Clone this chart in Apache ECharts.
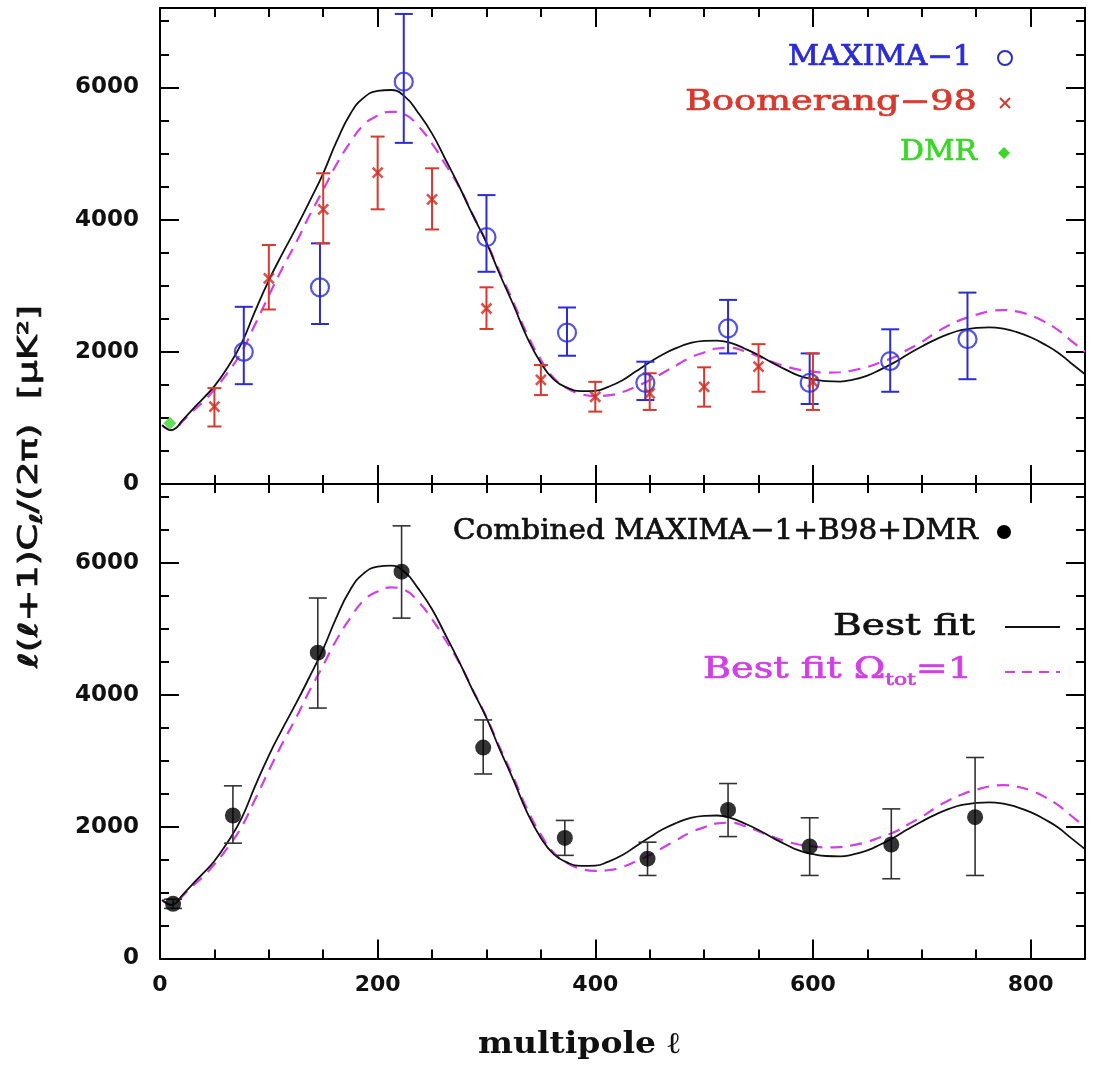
<!DOCTYPE html>
<html><head><meta charset="utf-8">
<script src="https://cdn.jsdelivr.net/npm/echarts@6/dist/echarts.min.js"></script>
<style>html,body{margin:0;padding:0;background:#fff}#c{width:1094px;height:1065px}</style>
</head><body><div id="c"></div>
<script>
// ---------------- DATA ----------------
const modelL = [2, 6, 10, 15, 20, 30, 40, 50, 62, 75, 87, 100, 112, 125, 137, 150, 162, 175, 187, 200, 212, 225, 237, 250, 262, 275, 287, 300, 312, 325, 337, 350, 362, 375, 387, 400, 412, 425, 437, 450, 462, 475, 487, 500, 512, 525, 537, 550, 562, 575, 587, 600, 612, 625, 637, 650, 662, 675, 687, 700, 712, 725, 737, 750, 762, 775, 787, 800, 812, 825, 837, 850];
const bestFit = [890, 840, 815, 850, 950, 1130, 1300, 1480, 1760, 2130, 2600, 3080, 3470, 3870, 4260, 4700, 5170, 5600, 5840, 5945, 5960, 5860, 5620, 5300, 4920, 4500, 4080, 3650, 3180, 2700, 2230, 1830, 1580, 1450, 1405, 1410, 1470, 1570, 1700, 1840, 1960, 2060, 2130, 2165, 2170, 2130, 2050, 1950, 1840, 1730, 1640, 1585, 1555, 1550, 1580, 1640, 1730, 1840, 1960, 2080, 2180, 2270, 2330, 2360, 2370, 2350, 2300, 2220, 2120, 1990, 1830, 1660];
const bestFitFlat = [890, 840, 815, 845, 935, 1100, 1250, 1430, 1680, 2000, 2400, 2850, 3250, 3650, 4050, 4450, 4830, 5170, 5430, 5570, 5630, 5590, 5420, 5150, 4840, 4490, 4090, 3660, 3210, 2740, 2280, 1880, 1600, 1440, 1360, 1330, 1340, 1390, 1470, 1570, 1680, 1800, 1910, 1990, 2050, 2060, 2010, 1930, 1850, 1780, 1730, 1700, 1685, 1690, 1720, 1770, 1840, 1920, 2030, 2150, 2280, 2400, 2490, 2560, 2610, 2630, 2610, 2550, 2460, 2330, 2170, 2000];

const maximaL  = [77, 147, 224, 300, 374, 446, 522, 597, 671, 742];
const maximaV  = [2000, 2975, 6085, 3735, 2290, 1530, 2355, 1530, 1860, 2190];
const maximaLo = [1510, 2420, 5160, 3210, 1940, 1270, 1975, 1210, 1395, 1585];
const maximaHi = [2680, 3640, 7110, 4370, 2670, 1850, 2785, 1975, 2340, 2895];

const boomL  = [50, 100, 150, 200, 250, 300, 350, 400, 450, 500, 550, 600];
const boomV  = [1170, 3110, 4155, 4710, 4305, 2655, 1575, 1320, 1370, 1470, 1775, 1545];
const boomLo = [870, 2640, 3640, 4155, 3850, 2345, 1345, 1095, 1120, 1170, 1395, 1120];
const boomHi = [1450, 3615, 4700, 5255, 4775, 2975, 1800, 1545, 1675, 1765, 2115, 1975];

const dmrL = [9];
const dmrV = [920];

const combL  = [12, 67, 145, 222, 297, 372, 448, 522, 597, 672, 749];
const combV  = [830, 2170, 4640, 5870, 3200, 1830, 1515, 2255, 1700, 1730, 2145];
const combLo = [760, 1750, 3800, 5165, 2800, 1565, 1260, 1850, 1260, 1210, 1260];
const combHi = [900, 2620, 5470, 6565, 3620, 2095, 1765, 2655, 2135, 2270, 3050];

const xTickLabels = [0, 200, 400, 600, 800];
const yTickLabels = [0, 2000, 4000, 6000];

const legendTop = ['MAXIMA\u22121', 'Boomerang\u221298', 'DMR'];
const legendBottom = ['Combined MAXIMA\u22121+B98+DMR', 'Best fit', 'Best fit \u03A9', 'tot', '=1'];

// ---------------- STYLE ----------------
const BLUE = '#2b2bd8', RED = '#d8392e', GREEN = '#3ad628', MAG = '#d040e6', BLK = '#111';
const X_MIN = 0, X_MAX = 850, Y_MIN = 0, Y_MAX = 7200;

const zip = (a, b) => a.map((v, i) => [v, b[i]]);
const zip3 = (a, b, c) => a.map((v, i) => [v, b[i], c[i]]);

function xAx(gi, pos, interval, len, withLine, labels) {
  return {
    type: 'value', gridIndex: gi, position: pos, min: X_MIN, max: X_MAX, interval: interval,
    axisLine: { show: withLine, onZero: false, lineStyle: { color: '#000', width: 2 } },
    axisTick: { show: true, inside: true, length: len, lineStyle: { color: '#000', width: 2 } },
    axisLabel: labels ? {
      show: true, margin: 16, color: '#111', fontFamily: 'DejaVu Sans', fontWeight: 'bold', fontSize: 22,
      formatter: v => (xTickLabels.indexOf(v) >= 0 ? String(v) : '')
    } : { show: false },
    splitLine: { show: false }
  };
}
function yAx(gi, pos, interval, len, withLine, labels) {
  return {
    type: 'value', gridIndex: gi, position: pos, min: Y_MIN, max: Y_MAX, interval: interval,
    axisLine: { show: withLine, onZero: false, lineStyle: { color: '#000', width: 2 } },
    axisTick: { show: true, inside: true, length: len, lineStyle: { color: '#000', width: 2 } },
    axisLabel: labels ? {
      show: true, margin: 21, color: '#111', fontFamily: 'DejaVu Sans', fontWeight: 'bold', fontSize: 23,
      formatter: v => (yTickLabels.indexOf(v) >= 0 ? String(v) : '')
    } : { show: false },
    splitLine: { show: false }
  };
}

const xAxes = [], yAxes = [];
[0, 1].forEach(gi => {
  xAxes.push(xAx(gi, 'bottom', 200, 19, true, gi === 1));
  xAxes.push(xAx(gi, 'bottom', 50, 9, false, false));
  xAxes.push(xAx(gi, 'top', 200, 19, true, false));
  xAxes.push(xAx(gi, 'top', 50, 9, false, false));
  yAxes.push(yAx(gi, 'left', 2000, 19, true, true));
  yAxes.push(yAx(gi, 'left', 500, 9, false, false));
  yAxes.push(yAx(gi, 'right', 2000, 19, true, false));
  yAxes.push(yAx(gi, 'right', 500, 9, false, false));
});

function errRender(capHalf, color, lw) {
  return function (params, api) {
    const x = api.value(0), lo = api.value(1), hi = api.value(2);
    const a = api.coord([x, lo]), b = api.coord([x, hi]);
    const st = { stroke: color, lineWidth: lw };
    return {
      type: 'group', children: [
        { type: 'line', shape: { x1: a[0], y1: a[1], x2: b[0], y2: b[1] }, style: st },
        { type: 'line', shape: { x1: a[0] - capHalf, y1: a[1], x2: a[0] + capHalf, y2: a[1] }, style: st },
        { type: 'line', shape: { x1: b[0] - capHalf, y1: b[1], x2: b[0] + capHalf, y2: b[1] }, style: st }
      ]
    };
  };
}

function modelSeries(ai) {
  return [
    { type: 'line', xAxisIndex: ai, yAxisIndex: ai, data: zip(modelL, bestFitFlat), smooth: 0.5, showSymbol: false,
      lineStyle: { color: MAG, width: 2.2, type: [12, 8] }, z: 2, silent: true, animation: false },
    { type: 'line', xAxisIndex: ai, yAxisIndex: ai, data: zip(modelL, bestFit), smooth: 0.5, showSymbol: false,
      lineStyle: { color: BLK, width: 1.8 }, z: 3, silent: true, animation: false }
  ];
}

const series = [].concat(
  modelSeries(0),
  [
    { type: 'custom', xAxisIndex: 0, yAxisIndex: 0, renderItem: errRender(9, BLUE, 2),
      data: zip3(maximaL, maximaLo, maximaHi), encode: { x: 0, y: [1, 2] }, z: 4, animation: false },
    { type: 'custom', xAxisIndex: 0, yAxisIndex: 0, renderItem: errRender(7, RED, 2),
      data: zip3(boomL, boomLo, boomHi), encode: { x: 0, y: [1, 2] }, z: 4, animation: false },
    { type: 'scatter', xAxisIndex: 0, yAxisIndex: 0, data: zip(maximaL, maximaV), symbol: 'circle', symbolSize: 18,
      itemStyle: { color: 'rgba(0,0,0,0)', borderColor: BLUE, borderWidth: 2.2 }, z: 5, animation: false },
    { type: 'scatter', xAxisIndex: 0, yAxisIndex: 0, data: zip(boomL, boomV), symbol: 'path://M0 0L10 10M10 0L0 10', symbolSize: 10,
      itemStyle: { color: 'rgba(0,0,0,0)', borderColor: '#cc2a20', borderWidth: 2.6 }, z: 5, animation: false },
    { type: 'scatter', xAxisIndex: 0, yAxisIndex: 0, data: zip(dmrL, dmrV), symbol: 'diamond', symbolSize: 13,
      itemStyle: { color: GREEN }, z: 5, animation: false }
  ],
  modelSeries(4),
  [
    { type: 'custom', xAxisIndex: 4, yAxisIndex: 4, renderItem: errRender(9, '#333', 1.6),
      data: zip3(combL, combLo, combHi), encode: { x: 0, y: [1, 2] }, z: 4, animation: false },
    { type: 'scatter', xAxisIndex: 4, yAxisIndex: 4, data: zip(combL, combV), symbol: 'circle', symbolSize: 16,
      itemStyle: { color: '#000' }, z: 5, animation: false }
  ]
);

// ---------------- TEXT (legends & titles) ----------------
const mctx = document.createElement('canvas').getContext('2d');
function tw(text, size, family, weight) {
  mctx.font = (weight || 'normal') + ' ' + size + 'px ' + family;
  return mctx.measureText(text).width;
}
const SERIF = '"DejaVu Serif"';
function rText(text, left, right, cy, size, color, weight) {
  const w = tw(text, size, SERIF, weight);
  return { type: 'text', x: right, y: cy, scaleX: (right - left) / w, z: 100,
    style: { text: text, fontFamily: 'DejaVu Serif', fontSize: size, fontWeight: weight || 'normal', fill: color,
      stroke: color, lineWidth: 0.7,
      align: 'right', verticalAlign: 'middle', textAlign: 'right', textVerticalAlign: 'middle' } };
}

const graphics = [];
graphics.push(rText(legendTop[0], 788, 972, 58, 27, BLUE));
graphics.push(rText(legendTop[1], 685, 977, 103, 27, RED));
graphics.push(rText(legendTop[2], 900, 977, 153, 27, GREEN));
graphics.push({ type: 'circle', shape: { cx: 1005, cy: 58, r: 7 }, style: { fill: 'none', stroke: BLUE, lineWidth: 2 }, z: 100 });
graphics.push({ type: 'line', shape: { x1: 1000, y1: 98, x2: 1010, y2: 108 }, style: { stroke: RED, lineWidth: 2 }, z: 100 });
graphics.push({ type: 'line', shape: { x1: 1010, y1: 98, x2: 1000, y2: 108 }, style: { stroke: RED, lineWidth: 2 }, z: 100 });
graphics.push({ type: 'polygon', shape: { points: [[1004, 147], [1010, 153], [1004, 159], [998, 153]] }, style: { fill: GREEN }, z: 100 });

graphics.push(rText(legendBottom[0], 453, 978, 532, 28, '#111'));
graphics.push({ type: 'circle', shape: { cx: 1004, cy: 532, r: 7 }, style: { fill: '#000' }, z: 100 });
graphics.push(rText(legendBottom[1], 833, 975, 627, 30, '#111'));
graphics.push({ type: 'line', shape: { x1: 1005, y1: 627, x2: 1060, y2: 627 }, style: { stroke: BLK, lineWidth: 2 }, z: 100 });
graphics.push({ type: 'line', shape: { x1: 1005, y1: 672, x2: 1060, y2: 672 }, style: { stroke: MAG, lineWidth: 2, lineDash: [10, 7] }, z: 100 });

// "Best fit Ω_tot=1" built from three pieces
(function () {
  const left = 703, right = 972, cy = 670, big = 30, small = 17;
  const w1 = tw(legendBottom[2], big, SERIF), w2 = tw(legendBottom[3], small, SERIF), w3 = tw(legendBottom[4], big, SERIF);
  const s = (right - left) / (w1 + w2 + w3);
  const mk = (t, x, y, size) => ({ type: 'text', x: x, y: y, scaleX: s, z: 100,
    style: { text: t, fontFamily: 'DejaVu Serif', fontSize: size, fill: MAG, stroke: MAG, lineWidth: 0.7,
      align: 'left', verticalAlign: 'middle', textAlign: 'left', textVerticalAlign: 'middle' } });
  graphics.push(mk(legendBottom[2], left, cy, big));
  graphics.push(mk(legendBottom[3], left + w1 * s, cy + 11, small));
  graphics.push(mk(legendBottom[4], left + (w1 + w2) * s, cy, big));
})();

// x-axis title
(function () {
  const t = 'multipole \u2113', size = 30;
  const w = tw(t, size, SERIF, 'bold');
  graphics.push({ type: 'text', x: 579, y: 1045, scaleX: 202 / w, z: 100,
    style: { text: t, fontFamily: 'DejaVu Serif', fontWeight: 'bold', fontSize: size, fill: '#111',
      align: 'center', verticalAlign: 'middle', textAlign: 'center', textVerticalAlign: 'middle' } });
})();

// y-axis title (rotated), ℓ(ℓ+1)C_ℓ/(2π) [μK²]
(function () {
  const p1 = '\u2113(\u2113+1)C', p2 = '\u2113', p3 = '/(2\u03C0)  [\u03BCK\u00B2]';
  const big = 26, small = 17, SANS = '"DejaVu Sans"';
  const w1 = tw(p1, big, SANS), w2 = tw(p2, small, SANS), w3 = tw(p3, big, SANS);
  const bottom = 668, top = 305, xc = 30;
  const s = (bottom - top) / (w1 + w2 + w3);
  const mk = (t, x, y, size) => ({ type: 'text', x: x, y: y, rotation: Math.PI / 2, scaleX: s, z: 100,
    style: { text: t, fontFamily: 'DejaVu Sans', fontSize: size, fill: '#111', stroke: '#111', lineWidth: 0.8,
      align: 'left', verticalAlign: 'middle', textAlign: 'left', textVerticalAlign: 'middle' } });
  graphics.push(mk(p1, xc, bottom, big));
  graphics.push(mk(p2, xc + 8, bottom - w1 * s, small));
  graphics.push(mk(p3, xc, bottom - (w1 + w2) * s, big));
})();

const chart = echarts.init(document.getElementById('c'), null, { renderer: 'canvas' });
chart.setOption({
  backgroundColor: '#fff',
  animation: false,
  grid: [
    { left: 160, right: 9, top: 8, height: 476, outerBoundsMode: 'none', containLabel: false },
    { left: 160, right: 9, top: 484, height: 474.5, outerBoundsMode: 'none', containLabel: false }
  ],
  xAxis: xAxes,
  yAxis: yAxes,
  series: series,
  graphic: graphics
});
</script>
</body></html>
